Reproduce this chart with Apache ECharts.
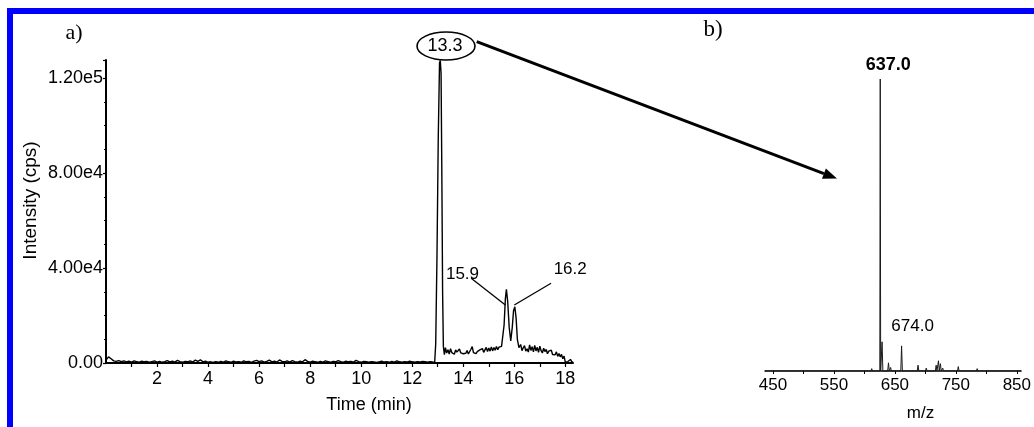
<!DOCTYPE html>
<html>
<head>
<meta charset="utf-8">
<script src="https://cdn.jsdelivr.net/npm/echarts@6/dist/echarts.min.js"></script>
<style>
html,body{margin:0;padding:0;background:#fff;}
#c{width:1034px;height:427px;}
</style>
</head>
<body>
<div id="c"></div>
<script>
// ---------- Chromatogram (panel a) ----------
const chromTime = [
  0.0,0.1,0.2,0.3,0.4,0.5,0.6,0.7,0.8,0.9,
  1.0,1.1,1.2,1.3,1.4,1.5,1.6,1.7,1.8,1.9,
  2.0,2.1,2.2,2.3,2.4,2.5,2.6,2.7,2.8,2.9,
  3.0,3.1,3.2,3.3,3.4,3.5,3.6,3.7,3.8,3.9,
  4.0,4.1,4.2,4.3,4.4,4.5,4.6,4.7,4.8,4.9,
  5.0,5.1,5.2,5.3,5.4,5.5,5.6,5.7,5.8,5.9,
  6.0,6.1,6.2,6.3,6.4,6.5,6.6,6.7,6.8,6.9,
  7.0,7.1,7.2,7.3,7.4,7.5,7.6,7.7,7.8,7.9,
  8.0,8.1,8.2,8.3,8.4,8.5,8.6,8.7,8.8,8.9,
  9.0,9.1,9.2,9.3,9.4,9.5,9.6,9.7,9.8,9.9,
  10.0,10.1,10.2,10.3,10.4,10.5,10.6,10.7,10.8,10.9,
  11.0,11.1,11.2,11.3,11.4,11.5,11.6,11.7,11.8,11.9,
  12.0,12.1,12.2,12.3,12.4,12.5,12.6,12.7,12.8,
  12.88,12.92,12.97,13.02,13.07,13.1,13.13,13.16,13.19,13.22,13.26,
  13.3,13.35,13.4,13.45,13.5,13.55,13.6,13.65,13.7,13.75,
  13.8,13.85,13.9,13.95,14.0,14.05,14.1,14.15,14.2,14.25,
  14.3,14.35,14.4,14.45,14.5,14.55,14.6,14.65,14.7,14.75,
  14.8,14.85,14.9,14.95,15.0,15.05,15.1,15.15,15.2,15.25,
  15.3,15.35,15.4,15.45,15.5,
  15.55,15.6,15.65,15.69,15.74,15.8,15.86,15.92,15.97,16.02,16.07,16.12,16.18,
  16.25,16.3,16.35,16.4,16.45,16.5,16.55,16.6,16.65,16.7,
  16.75,16.8,16.85,16.9,16.95,17.0,17.05,17.1,17.15,17.2,
  17.25,17.3,17.35,17.4,17.45,17.5,17.55,17.6,17.65,17.7,
  17.75,17.8,17.85,17.9,17.95,18.0,18.05,18.1,18.15,18.2,
  18.25,18.3
];
const chromIntensity = [
  1200,2600,1800,900,700,1000,600,900,500,800,
  400,900,600,300,800,500,700,300,600,900,
  400,700,300,600,1000,500,800,400,1100,600,
  300,700,500,900,400,1200,700,1300,500,800,
  300,500,200,600,300,700,400,900,500,300,
  800,400,600,300,900,500,700,300,800,1100,
  600,900,400,700,1200,500,800,400,1300,700,
  500,900,400,1000,600,300,800,500,1400,700,
  400,800,500,300,700,400,900,600,300,700,
  500,1000,600,300,800,500,700,400,1100,600,
  300,700,500,300,600,400,200,500,800,400,
  600,300,700,400,900,500,300,600,400,800,
  500,300,600,400,700,500,300,600,400,
  300,8000,45000,95000,126500,127400,122000,80000,30000,7000,3500,
  6500,4200,5600,3800,6000,4400,5200,3700,5500,4600,
  4000,5900,4300,5100,3900,4700,4100,5300,3800,4500,
  5800,6900,4400,5000,3900,4800,4200,5500,4700,6100,
  4500,5200,6600,4800,6300,5000,6800,5100,6500,5400,
  7000,5600,6700,6000,7000,
  7500,16000,27000,31000,26000,15000,9300,15000,22000,23700,19000,10000,6500,
  7800,5200,6400,7300,5000,6000,4600,7600,5300,6900,
  4700,7400,5100,6600,4500,7100,5200,4200,6200,4800,
  5700,3900,5000,4300,5400,3600,4400,3500,4700,2800,
  4000,2600,3600,1800,2900,300,500,600,300,1500,
  600,400
];
const timeTickLabels = [2,4,6,8,10,12,14,16,18];
const intensityTickValues = [0,40000,80000,120000];
const intensityTickLabels = ['0.00','4.00e4','8.00e4','1.20e5'];
const peakNotes = ['15.9','16.2'];
const apexNote = '13.3';

// ---------- Mass spectrum (panel b) ----------
const mzPeaks =        [612, 626, 629, 639.5, 643, 661, 688, 701.5, 717.7, 721.5, 724.7, 728.5, 754, 785, 800, 812, 839, 847];
const mzIntensity =    [0.8, 100, 10,  2.8,   1.2, 8.6, 2.0, 1.0,   2.0,   3.5,   2.5,   1.0,   1.5, 0.8, 0.5, 0.5, 0.6, 0.6];
const mzLabelPeaks = [626, 661];
const mzLabelTexts = ['637.0', '674.0'];
const mzTickLabels = [450, 550, 650, 750, 850];
const mzTickMarks = [450, 500, 550, 600, 650, 700, 750, 800, 850];

// build profile data for stick spectrum
const specData = [[437, 0]];
mzPeaks.forEach((m, i) => {
  const hw = mzIntensity[i] >= 50 ? 0.7 : 1.3;
  specData.push([m - hw, 0]);
  specData.push([m, mzIntensity[i]]);
  specData.push([m + hw, 0]);
});
specData.push([857, 0]);

const FONT = 'Liberation Sans, Arial, sans-serif';
const specMarks = mzLabelPeaks.map((m, k) => {
  const bold = k === 0;
  return {
    coord: [m, mzIntensity[mzPeaks.indexOf(m)]],
    value: mzLabelTexts[k],
    label: {
      formatter: mzLabelTexts[k],
      offset: bold ? [8, 0] : [11, -6],
      fontSize: bold ? 18 : 17, fontWeight: bold ? 'bold' : 'normal'
    }
  };
});

const chromData = chromTime.map((t, i) => [t, chromIntensity[i]]);

const chart = echarts.init(document.getElementById('c'), null, {renderer: 'canvas'});

// arrow geometry
const aStart = [476.7, 41.7], aEnd = [837, 178.5];
const dx = aEnd[0] - aStart[0], dy = aEnd[1] - aStart[1];
const L = Math.sqrt(dx * dx + dy * dy), ux = dx / L, uy = dy / L;
const headLen = 14, headW = 5.5;
const base = [aEnd[0] - headLen * ux, aEnd[1] - headLen * uy];
const head = [aEnd, [base[0] - headW * uy, base[1] + headW * ux], [base[0] + headW * uy, base[1] - headW * ux]];

chart.setOption({
  animation: false,
  backgroundColor: '#fff',
  grid: [
    {left: 106, right: 461, top: 60, bottom: 64, containLabel: false},
    {left: 765, right: 10, top: 79, bottom: 55, containLabel: false}
  ],
  xAxis: [
    {
      gridIndex: 0, type: 'value', min: 0, max: 18.3, interval: 1,
      splitLine: {show: false},
      axisLine: {show: true, lineStyle: {color: '#000', width: 2}},
      axisTick: {show: true, length: 4, lineStyle: {color: '#000', width: 1.2}},
      axisLabel: {
        color: '#000', fontSize: 18, fontFamily: FONT, margin: 7,
        showMaxLabel: false, showMinLabel: false,
        formatter: v => timeTickLabels.indexOf(v) >= 0 ? String(v) : ''
      },
      name: 'Time (min)', nameLocation: 'middle', nameGap: 33,
      nameTextStyle: {color: '#000', fontSize: 18, fontFamily: FONT, padding: [0, 0, 0, 59]}
    },
    {
      gridIndex: 1, type: 'value', min: 437, max: 857,
      splitLine: {show: false},
      axisLine: {show: true, lineStyle: {color: '#000', width: 1.5}},
      axisTick: {show: true, length: 3, customValues: mzTickMarks, lineStyle: {color: '#000', width: 1}},
      axisLabel: {color: '#000', fontSize: 17, fontFamily: FONT, margin: 6, customValues: mzTickLabels},
      name: 'm/z', nameLocation: 'middle', nameGap: 34,
      nameTextStyle: {color: '#000', fontSize: 17, fontFamily: FONT, padding: [0, 0, 0, 55]}
    }
  ],
  yAxis: [
    {
      gridIndex: 0, type: 'value', min: 0, max: 127600, interval: 40000,
      splitLine: {show: false},
      axisLine: {show: true, lineStyle: {color: '#000', width: 2}},
      axisTick: {show: true, length: 3, lineStyle: {color: '#000', width: 1.2}},
      minorTick: {show: true, splitNumber: 4, length: 2, lineStyle: {color: '#000', width: 1.2}},
      axisLabel: {
        color: '#000', fontSize: 18, fontFamily: FONT, margin: 3, showMaxLabel: false,
        formatter: v => {
          const k = intensityTickValues.indexOf(v);
          return k >= 0 ? intensityTickLabels[k] : '';
        }
      },
      name: 'Intensity (cps)', nameLocation: 'middle', nameGap: 66,
      nameTextStyle: {color: '#000', fontSize: 19, fontFamily: FONT, padding: [0, 0, 0, 22]}
    },
    {
      gridIndex: 1, type: 'value', min: 0, max: 100, show: false
    }
  ],
  series: [
    {
      type: 'line', xAxisIndex: 0, yAxisIndex: 0, data: chromData,
      showSymbol: false, symbol: 'none',
      lineStyle: {color: '#000', width: 1.4}, z: 3,
      markLine: {
        silent: true, symbol: 'none',
        lineStyle: {color: '#000', width: 1.3, type: 'solid'},
        label: {show: false},
        data: [
          [{coord: [14.31, 35660]}, {coord: [15.65, 24420]}],
          [{coord: [17.44, 33560]}, {coord: [16.0, 24420]}]
        ]
      },
      markPoint: {
        silent: true, symbol: 'circle', symbolSize: 0,
        label: {show: true, position: 'inside', color: '#000', fontSize: 17, fontFamily: FONT},
        data: [
          {coord: [13.97, 37470], value: peakNotes[0], label: {formatter: peakNotes[0]}},
          {coord: [18.19, 39580], value: peakNotes[1], label: {formatter: peakNotes[1]}}
        ]
      }
    },
    {
      type: 'line', xAxisIndex: 1, yAxisIndex: 1, data: specData,
      showSymbol: false, symbol: 'none',
      lineStyle: {color: '#1a1a1a', width: 1}, z: 3,
      markPoint: {
        silent: true, symbol: 'circle', symbolSize: 0,
        label: {show: true, position: 'top', distance: 5, color: '#000', fontFamily: FONT},
        data: specMarks
      }
    }
  ],
  graphic: [
    {type: 'rect', shape: {x: 7, y: 8, width: 1027, height: 6}, style: {fill: '#0000ff'}, silent: true},
    {type: 'rect', shape: {x: 7, y: 8, width: 6, height: 419}, style: {fill: '#0000ff'}, silent: true},
    {type: 'text', x: 74, y: 33, style: {text: 'a)', fontSize: 22, fontFamily: 'Liberation Serif, Times New Roman, serif', fill: '#000', textAlign: 'center', textVerticalAlign: 'middle'}},
    {type: 'text', x: 713, y: 30, style: {text: 'b)', fontSize: 23, fontFamily: 'Liberation Serif, Times New Roman, serif', fill: '#000', textAlign: 'center', textVerticalAlign: 'middle'}},
    {type: 'line', shape: {x1: aStart[0], y1: aStart[1], x2: base[0], y2: base[1]}, style: {stroke: '#000', lineWidth: 3}, z: 10},
    {type: 'polygon', shape: {points: head}, style: {fill: '#000'}, z: 10},
    {type: 'ellipse', shape: {cx: 446, cy: 46, rx: 29, ry: 14}, style: {fill: '#fff', stroke: '#000', lineWidth: 1.6}, z: 11},
    {type: 'text', x: 445, y: 46, z: 12, style: {text: apexNote, fontSize: 18, fontFamily: FONT, fill: '#000', textAlign: 'center', textVerticalAlign: 'middle'}}
  ]
});
</script>
</body>
</html>
